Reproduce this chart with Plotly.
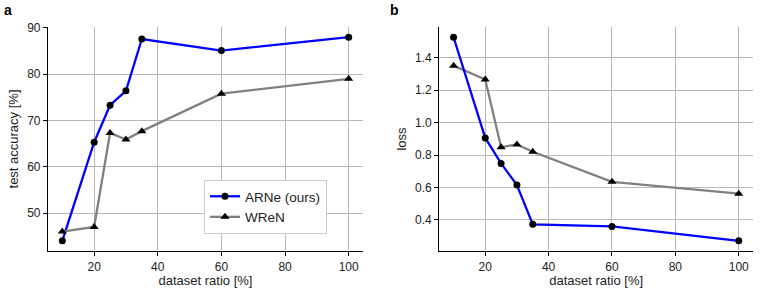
import plotly.graph_objects as go

ratio = [10, 20, 25, 30, 35, 60, 100]
arne_acc = [44.0, 65.3, 73.3, 76.4, 87.6, 85.1, 88.0]
wren_acc = [46.0, 47.0, 67.3, 65.9, 67.7, 75.8, 79.0]
arne_loss = [1.525, 0.905, 0.748, 0.615, 0.373, 0.360, 0.272]
wren_loss = [1.350, 1.265, 0.848, 0.865, 0.820, 0.635, 0.562]

x_ticks = [20, 40, 60, 80, 100]
acc_ticks = [50, 60, 70, 80, 90]
loss_ticks = [0.4, 0.6, 0.8, 1.0, 1.2, 1.4]

BLUE = "#0000ff"
GRAY = "#808080"
FONT = "Liberation Sans, Arial, sans-serif"
TXT = "#222222"

W, H = 761, 289
ML, MR, MT, MB = 48, 8, 27, 38
plot_w, plot_h = W - ML - MR, H - MT - MB

fig = go.Figure()
fig.add_trace(go.Scatter(x=ratio, y=arne_acc, mode="lines+markers", name="ARNe (ours)",
                         line=dict(color=BLUE, width=2.3),
                         marker=dict(symbol="circle", size=7, color="black"),
                         xaxis="x", yaxis="y"))
fig.add_trace(go.Scatter(x=ratio, y=wren_acc, mode="lines+markers", name="WReN",
                         line=dict(color=GRAY, width=2.3),
                         marker=dict(symbol="triangle-up", size=8, color="black"),
                         xaxis="x", yaxis="y"))
fig.add_trace(go.Scatter(x=ratio, y=wren_loss, mode="lines+markers", name="WReN",
                         line=dict(color=GRAY, width=2.3),
                         marker=dict(symbol="triangle-up", size=8, color="black"),
                         xaxis="x2", yaxis="y2", showlegend=False))
fig.add_trace(go.Scatter(x=ratio, y=arne_loss, mode="lines+markers", name="ARNe (ours)",
                         line=dict(color=BLUE, width=2.3),
                         marker=dict(symbol="circle", size=7, color="black"),
                         xaxis="x2", yaxis="y2", showlegend=False))

axis_common = dict(showline=True, linecolor="black", linewidth=1.2, ticks="outside",
                   ticklen=4, tickcolor="black", showgrid=True, gridcolor="#b8b8b8",
                   gridwidth=1, zeroline=False, mirror=False, automargin=False,
                   tickfont=dict(family=FONT, size=12, color=TXT))
title_font = dict(family=FONT, size=13, color=TXT)

fig.update_layout(
    width=W, height=H,
    margin=dict(l=ML, r=MR, t=MT, b=MB, autoexpand=False),
    paper_bgcolor="white", plot_bgcolor="white",
    font=dict(family=FONT, size=12, color=TXT),
    xaxis=dict(domain=[0.0, 315 / plot_w], range=[5.5, 104.5], tickvals=x_ticks,
               title=dict(text="dataset ratio [%]", standoff=3, font=title_font),
               anchor="y", **axis_common),
    yaxis=dict(domain=[0.0, 1.0], range=[41.8, 90.2], tickvals=acc_ticks,
               title=dict(text="test accuracy [%]", standoff=5, font=title_font),
               anchor="x", **axis_common),
    xaxis2=dict(domain=[(439.3 - ML) / plot_w, 1.0], range=[5.5, 104.5], tickvals=x_ticks,
                title=dict(text="dataset ratio [%]", standoff=3, font=title_font),
                anchor="y2", **axis_common),
    yaxis2=dict(domain=[0.0, 1.0], range=[0.209, 1.588], tickvals=loss_ticks,
                tickformat=".1f",
                title=dict(text="loss", standoff=5, font=title_font),
                anchor="x2", **axis_common),
    legend=dict(x=(204 - ML) / plot_w, y=(H - MB - 180) / plot_h, xanchor="left", yanchor="top",
                bgcolor="white", bordercolor="#cccccc", borderwidth=1,
                font=dict(family=FONT, size=13.5, color=TXT),
                itemwidth=30, tracegroupgap=0),
    showlegend=True,
    annotations=[
        dict(text="<b>a</b>", x=(8 - ML) / plot_w, y=(H - MB - 10) / plot_h,
             xref="paper", yref="paper", xanchor="center", yanchor="middle",
             showarrow=False, font=dict(family=FONT, size=14, color="black")),
        dict(text="<b>b</b>", x=(394 - ML) / plot_w, y=(H - MB - 10) / plot_h,
             xref="paper", yref="paper", xanchor="center", yanchor="middle",
             showarrow=False, font=dict(family=FONT, size=14, color="black")),
    ],
)

fig.write_html("out.html", config={"displayModeBar": False},
               post_script="document.body.style.margin='0';")
